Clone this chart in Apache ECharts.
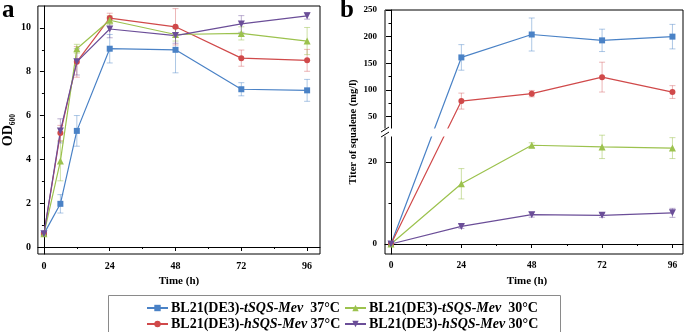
<!DOCTYPE html>
<html>
<head>
<meta charset="utf-8">
<script src="https://cdn.jsdelivr.net/npm/echarts@6/dist/echarts.min.js"></script>
<style>
  html, body { margin: 0; padding: 0; background: #fff; }
  #chart { width: 685px; height: 332px; }
</style>
</head>
<body>
<div id="chart"></div>
<script>
// growth (OD600) and squalene titer, four strains
const names = [
  'BL21(DE3)-tSQS-Mev  37°C',
  'BL21(DE3)-tSQS-Mev  30°C',
  'BL21(DE3)-hSQS-Mev 37°C',
  'BL21(DE3)-hSQS-Mev 30°C'
];

// panel a
const aTime = [0, 6, 12, 24, 48, 72, 96];
const aT37 = [0.6, 1.97, 5.3, 9.05, 9.0, 7.2, 7.15];
const aT37sd = [0.05, 0.42, 0.7, 0.65, 1.05, 0.3, 0.5];
const aH37 = [0.6, 5.2, 8.45, 10.45, 10.05, 8.62, 8.52];
const aH37sd = [0.05, 0.35, 0.7, 0.22, 0.83, 0.37, 0.5];
const aT30 = [0.6, 3.92, 9.05, 10.35, 9.7, 9.75, 9.4];
const aT30sd = [0.05, 0.9, 0.2, 0.2, 0.3, 0.3, 0.62];
const aH30 = [0.6, 5.3, 8.45, 9.95, 9.65, 10.18, 10.55];
const aH30sd = [0.05, 0.55, 0.6, 0.4, 0.35, 0.38, 0.15];

// panel b
const bTime = [0, 24, 48, 72, 96];
const bT37 = [0, 161, 204, 193, 200];
const bT37sd = [0, 24, 31, 21, 23];
const bH37 = [0, 79, 93, 124, 96];
const bH37sd = [0, 15, 6, 28, 12];
const bT30 = [0, 14.7, 24.1, 23.7, 23.4];
const bT30sd = [0, 3.7, 0.6, 2.85, 2.55];
const bH30 = [0, 4.3, 7.15, 7.0, 7.6];
const bH30sd = [0, 0.5, 0.6, 0.5, 1.1];

const timeTicks = [0, 24, 48, 72, 96];
const timeMinor = [12, 36, 60, 84];
const odTicks = [0, 2, 4, 6, 8, 10];
const odMinor = [1, 3, 5, 7, 9];
const titerTicks = [0, 20, 50, 100, 150, 200, 250];
const titerMinor = [10, 75, 125, 175, 225];

const colors = ['#4a82c6', '#9cc24e', '#d0494a', '#6b4e98'];
const errColors = ['rgba(74,130,198,0.45)', 'rgba(156,194,78,0.5)', 'rgba(208,73,74,0.4)', 'rgba(107,78,152,0.45)'];
const symbols = ['rect', 'triangle', 'circle', 'path://M0,0L10,0L5,8.7Z'];
const symSizes = [6, 7, 6, 7];
const FONT = 'Liberation Serif';

// broken titer axis: lower part 0..LOW linear, upper part from 20 squeezed by RATIO
const LOW = 27.2, UP0 = 20, RATIO = 0.13;
const brk = v => (v <= LOW ? v : LOW + (v - UP0) * RATIO);
const unbrk = d => (d <= LOW + 1e-6 ? d : UP0 + (d - LOW) / RATIO);

const chart = echarts.init(document.getElementById('chart'));

function errSeries(name, xi, yi, times, vals, sds, color, trans) {
  const f = trans || (v => v);
  return {
    name: name + ' err', type: 'custom', xAxisIndex: xi, yAxisIndex: yi, z: 1,
    data: times.map((t, i) => [t, f(vals[i] - sds[i]), f(vals[i] + sds[i]), sds[i]]),
    encode: { x: 0, y: [1, 2] },
    renderItem: (params, api) => {
      if (!api.value(3)) return null;
      const lo = api.coord([api.value(0), api.value(1)]);
      const hi = api.coord([api.value(0), api.value(2)]);
      const w = 3, st = { stroke: color, lineWidth: 1 };
      return {
        type: 'group', children: [
          { type: 'line', shape: { x1: lo[0], y1: lo[1], x2: hi[0], y2: hi[1] }, style: st },
          { type: 'line', shape: { x1: lo[0] - w, y1: lo[1], x2: lo[0] + w, y2: lo[1] }, style: st },
          { type: 'line', shape: { x1: hi[0] - w, y1: hi[1], x2: hi[0] + w, y2: hi[1] }, style: st }
        ]
      };
    }
  };
}

function lineSeries(k, xi, yi, times, vals, trans) {
  const f = trans || (v => v);
  return {
    name: names[k], type: 'line', xAxisIndex: xi, yAxisIndex: yi, z: 3,
    data: times.map((t, i) => [t, f(vals[i])]),
    symbol: symbols[k], symbolSize: symSizes[k], showSymbol: true,
    lineStyle: { color: colors[k], width: 1.2 },
    itemStyle: { color: colors[k] },
    emphasis: { disabled: true }
  };
}

const aSets = [[aT37, aT37sd], [aT30, aT30sd], [aH37, aH37sd], [aH30, aH30sd]];
const bSets = [[bT37, bT37sd], [bT30, bT30sd], [bH37, bH37sd], [bH30, bH30sd]];
const drawOrder = [0, 2, 1, 3];

const series = [];
drawOrder.forEach(k => {
  series.push(errSeries(names[k] + ' a', 0, 0, aTime, aSets[k][0], aSets[k][1], errColors[k]));
  series.push(lineSeries(k, 0, 0, aTime, aSets[k][0]));
});
drawOrder.forEach(k => {
  series.push(errSeries(names[k] + ' b', 2, 2, bTime, bSets[k][0], bSets[k][1], errColors[k], brk));
  series.push(lineSeries(k, 2, 2, bTime, bSets[k][0], brk));
});

const tickLabel = size => ({ fontFamily: FONT, fontWeight: 'bold', fontSize: size, color: '#000' });
const axLine = { lineStyle: { color: '#000', width: 1 } };

function mainX(grid, min, max, size) {
  return {
    type: 'value', gridIndex: grid, position: 'bottom', min, max,
    axisLine: axLine, splitLine: { show: false },
    axisTick: { length: 4, customValues: timeTicks, lineStyle: { color: '#000' } },
    axisLabel: Object.assign({ customValues: timeTicks, margin: 7 }, tickLabel(size)),
    name: 'Time (h)', nameLocation: 'middle', nameGap: 19,
    nameTextStyle: { fontFamily: FONT, fontWeight: 'bold', fontSize: 11, color: '#000',
      padding: grid === 1 ? [0, 14, 0, 0] : 0 }
  };
}
function minorX(grid, min, max) {
  return {
    type: 'value', gridIndex: grid, position: 'bottom', min, max,
    axisLine: { show: false }, splitLine: { show: false }, axisLabel: { show: false },
    axisTick: { length: 2, customValues: timeMinor, lineStyle: { color: '#000' } }
  };
}

const labelB = tickLabel(9);

chart.setOption({
  animation: false,
  textStyle: { fontFamily: FONT },
  grid: [
    { left: 35, top: 6, width: 285, height: 248, show: true, borderColor: '#000', borderWidth: 1 },
    { left: 385, top: 10, width: 298, height: 244, show: true, borderColor: '#000', borderWidth: 1 }
  ],
  xAxis: [
    mainX(0, -2.2, 100.7, 10),
    minorX(0, -2.2, 100.7),
    mainX(1, -2.05, 99.6, 9.5),
    minorX(1, -2.05, 99.6)
  ],
  yAxis: [
    {
      type: 'value', gridIndex: 0, position: 'left', min: -0.32, max: 11.0,
      axisLine: axLine, splitLine: { show: false },
      axisTick: { length: 4, customValues: odTicks, lineStyle: { color: '#000' } },
      axisLabel: Object.assign({ customValues: odTicks, margin: 7 }, tickLabel(10)),
      name: '{a|OD}{s|600}', nameLocation: 'middle', nameGap: 22,
      nameTextStyle: {
        rich: {
          a: { fontFamily: FONT, fontWeight: 'bold', fontSize: 14, color: '#000' },
          s: { fontFamily: FONT, fontWeight: 'bold', fontSize: 7.5, color: '#000', verticalAlign: 'bottom', padding: [0, 0, -2, 0] }
        }
      }
    },
    {
      type: 'value', gridIndex: 0, position: 'left', min: -0.32, max: 11.0,
      axisLine: { show: false }, splitLine: { show: false }, axisLabel: { show: false },
      axisTick: { length: 2, customValues: odMinor, lineStyle: { color: '#000' } }
    },
    {
      type: 'value', gridIndex: 1, position: 'left', min: -2.44, max: brk(250),
      axisLine: axLine, splitLine: { show: false },
      axisTick: { length: 5, customValues: titerTicks.map(brk), lineStyle: { color: '#000' } },
      axisLabel: Object.assign({
        customValues: titerTicks.map(brk), margin: 8,
        formatter: v => String(Math.round(unbrk(v)))
      }, labelB),
      name: 'Titer of squalene (mg/l)', nameLocation: 'middle', nameGap: 26,
      nameTextStyle: { fontFamily: FONT, fontWeight: 'bold', fontSize: 10.5, color: '#000' }
    },
    {
      type: 'value', gridIndex: 1, position: 'left', min: -2.44, max: brk(250),
      axisLine: { show: false }, splitLine: { show: false }, axisLabel: { show: false },
      axisTick: { length: 2.5, customValues: titerMinor.map(brk), lineStyle: { color: '#000' } }
    }
  ],
  legend: [0, 1].map(c => ({
    data: [names[c], names[c + 2]],
    orient: 'vertical', left: c === 0 ? 146 : 344, top: 300,
    padding: 0, itemGap: 0, itemWidth: 21, itemHeight: 8,
    selectedMode: false,
    formatter: n => n.replace(/^(BL21\(DE3\)-)(\S+)(\s+.*)$/, '{n|$1}{i|$2}{n|$3}'),
    textStyle: {
      lineHeight: 16, padding: [0, 0, 0, -2],
      rich: {
        n: { fontFamily: FONT, fontWeight: 'bold', fontSize: 14, color: '#000', lineHeight: 16 },
        i: { fontFamily: FONT, fontWeight: 'bold', fontStyle: 'italic', fontSize: 14, color: '#000', lineHeight: 16 }
      }
    }
  })),
  series
});

// panel letters, legend frame and the break marks on the titer axis
const axX = chart.convertToPixel({ xAxisIndex: 2 }, -2.05);
const brY = chart.convertToPixel({ yAxisIndex: 2 }, LOW);
const gapRight = chart.convertToPixel({ xAxisIndex: 2 }, 28);
chart.setOption({
  graphic: [
    { type: 'text', left: 2, top: -2, z: 10, style: { text: 'a', font: 'bold 25px "Liberation Serif"', fill: '#000' } },
    { type: 'text', left: 340, top: -2, z: 10, style: { text: 'b', font: 'bold 25px "Liberation Serif"', fill: '#000' } },
    { type: 'rect', z: 10, shape: { x: 108.5, y: 295.5, width: 452, height: 40 }, style: { fill: 'none', stroke: '#8a8a8a', lineWidth: 1 } },
    { type: 'rect', z: 20, shape: { x: axX - 2, y: brY - 4, width: gapRight - axX + 2, height: 8 }, style: { fill: '#fff' } },
    { type: 'line', z: 21, shape: { x1: axX - 4, y1: brY - 0.5, x2: axX + 4, y2: brY - 5.5 }, style: { stroke: '#000', lineWidth: 1 } },
    { type: 'line', z: 21, shape: { x1: axX - 4, y1: brY + 4.5, x2: axX + 4, y2: brY - 0.5 }, style: { stroke: '#000', lineWidth: 1 } }
  ]
});
</script>
</body>
</html>
